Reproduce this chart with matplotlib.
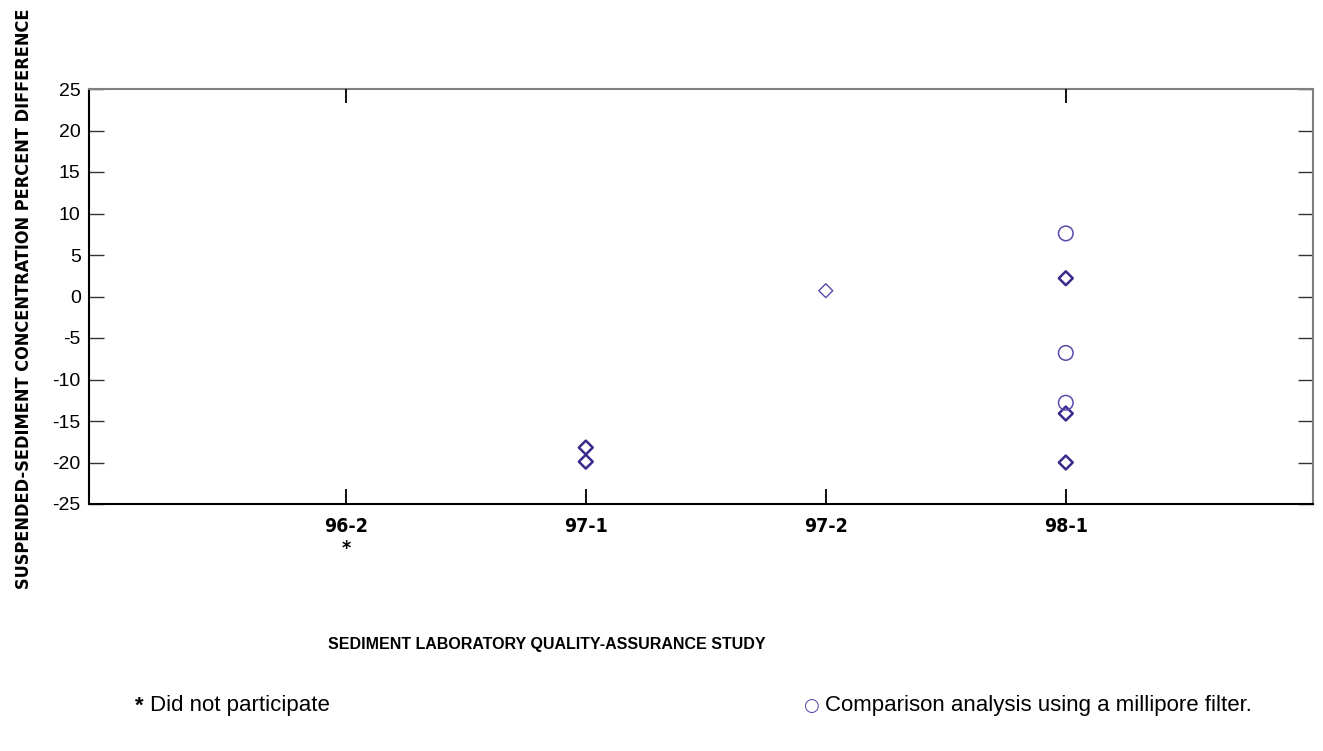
import matplotlib
matplotlib.use("Agg")
import matplotlib.pyplot as plt
from matplotlib import font_manager
from matplotlib.font_manager import FontProperties

# ---- data ----
categories = ['96-2', '97-1', '97-2', '98-1']
diamond_study = ['97-1', '97-1', '97-2', '98-1', '98-1', '98-1']
diamond_values = [-18.2, -19.9, 0.7, 2.2, -14.1, -20.0]
circle_study = ['98-1', '98-1', '98-1']
circle_values = [7.6, -6.8, -12.8]
yticks = [-25, -20, -15, -10, -5, 0, 5, 10, 15, 20, 25]
not_participating = ['96-2']


def _is_bold(w):
    if isinstance(w, str):
        return w.lower() in ('bold', 'semibold', 'demibold', 'demi', 'heavy', 'black', 'extra bold')
    return w >= 600


def _is_cond(f):
    st = str(f.stretch).lower()
    return ('condensed' in f.name.lower() or 'narrow' in f.name.lower()
            or 'condensed' in st or st in ('500',) and False)


cands = [f for f in font_manager.fontManager.ttflist
         if _is_cond(f) and _is_bold(f.weight)]
if cands:
    cond_fp = lambda size: FontProperties(fname=cands[0].fname, size=size)
else:
    cond_fp = lambda size: FontProperties(family='Liberation Sans', weight='bold', size=size)

sans = 'Liberation Sans'

W, H = 1323, 751
fig = plt.figure(figsize=(W / 100, H / 100), dpi=100)
L, R, T, B = 89, 1313, 89, 504
ax = fig.add_axes([L / W, 1 - B / H, (R - L) / W, (B - T) / H])

xpos = {c: i for i, c in enumerate(categories)}
dx = [xpos[s] for s in diamond_study]
cx = [xpos[s] for s in circle_study]

dark = '#3b2a8c'
light = '#5a4aaa'
diamond_lw = [1.8, 1.8, 1.0, 1.8, 1.8, 1.8]
diamond_col = [dark, dark, light, dark, dark, dark]
ax.scatter(dx, diamond_values, marker='D', s=50, facecolors='none',
           edgecolors=diamond_col, linewidths=diamond_lw, zorder=3)
ax.scatter(cx, circle_values, marker='o', s=110, facecolors='none',
           edgecolors=light, linewidths=1.1, zorder=3)

ax.set_xlim(-1.07, 4.03)
ax.set_ylim(-25, 25)
ax.set_yticks(yticks)
ax.set_yticklabels([str(v) for v in yticks], family=sans, fontsize=14)
ax.set_xticks(range(len(categories)))
ax.set_xticklabels([c + ('\n*' if c in not_participating else '') for c in categories],
                   fontproperties=cond_fp(14), linespacing=1.25)
ax.tick_params(axis='y', direction='in', length=11, width=1.0, right=True,
               pad=6, color='#333333')
ax.tick_params(axis='x', direction='in', length=11, width=1.3, top=False,
               pad=9, color='black')

for side in ['left', 'bottom']:
    ax.spines[side].set_color('black')
    ax.spines[side].set_linewidth(1.5)
for side in ['top', 'right']:
    ax.spines[side].set_color('#808080')
    ax.spines[side].set_linewidth(1.5)

# top ticks only at first and last study
ax2 = ax.twiny()
ax2.set_xlim(ax.get_xlim())
ax2.set_xticks([xpos[categories[0]], xpos[categories[-1]]])
ax2.set_xticklabels([])
ax2.tick_params(axis='x', direction='in', length=10, width=1.3, color='black')
for s in ax2.spines.values():
    s.set_visible(False)

ylab = fig.text(24 / W, 1 - 299 / H,
                'SUSPENDED-SEDIMENT CONCENTRATION PERCENT DIFFERENCE',
                rotation=90, ha='center', va='center', fontproperties=cond_fp(13))
fig.canvas.draw()
bb = ylab.get_window_extent(renderer=fig.canvas.get_renderer())
ylab.set_fontsize(13 * 578 / bb.height)

fig.text(547 / W, 1 - 645 / H, 'SEDIMENT LABORATORY QUALITY-ASSURANCE STUDY',
         ha='center', va='center', family=sans, weight='bold', fontsize=11.5)

fig.text(135 / W, 1 - 706 / H, '*', ha='left', va='center', family=sans,
         weight='bold', fontsize=16)
fig.text(150 / W, 1 - 706 / H, 'Did not participate', ha='left', va='center',
         family=sans, fontsize=16)
fig.text(811 / W, 1 - 706 / H, '\u25cb', ha='center', va='center',
         family='DejaVu Sans', fontsize=13, color=light)
fig.text(825 / W, 1 - 706 / H, 'Comparison analysis using a millipore filter.',
         ha='left', va='center', family=sans, fontsize=16)

fig.savefig('out.png', dpi=100)
